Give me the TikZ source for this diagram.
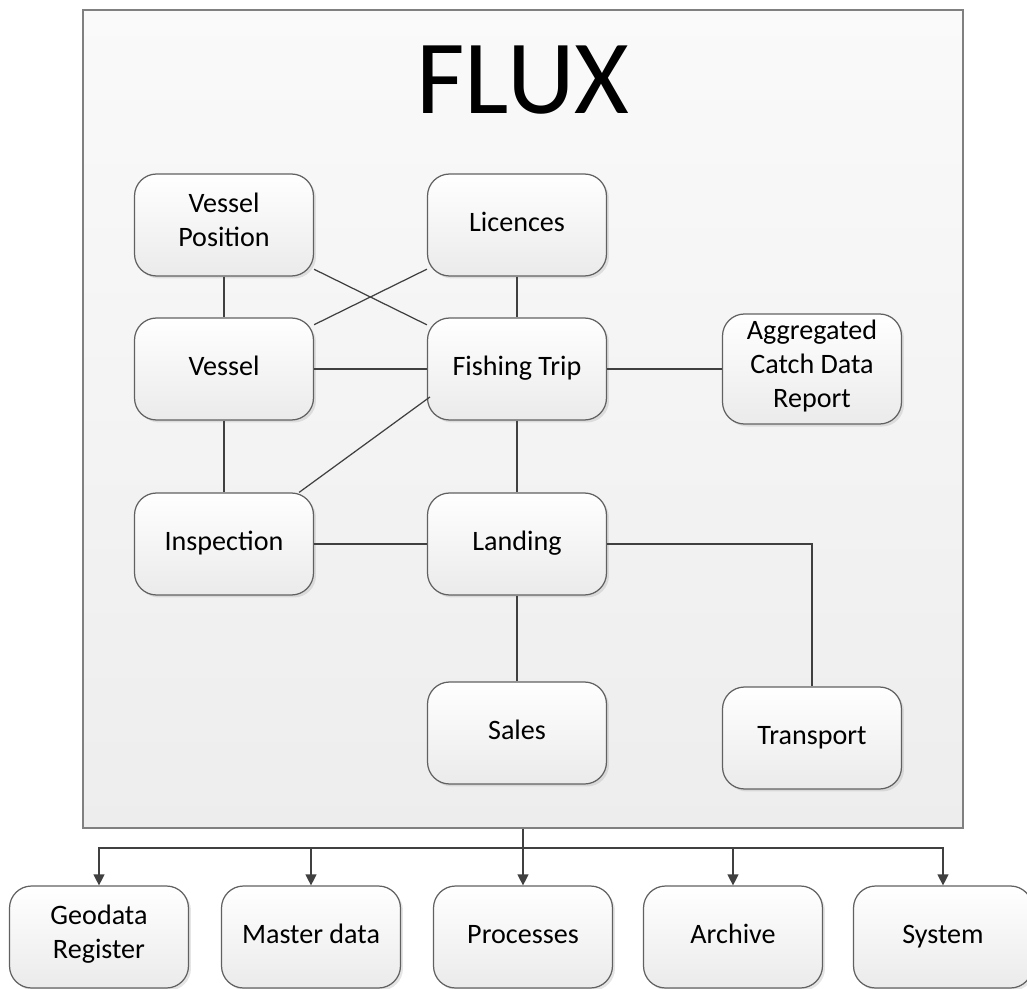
\documentclass[tikz,border=0pt]{standalone}
\usepackage{fontspec}
\setmainfont{Carlito}
\usetikzlibrary{arrows.meta,shadows}

\begin{document}
\begin{tikzpicture}[x=0.02cm,y=-0.02cm,
  box/.style={draw=black!62, line width=0.7pt, rounded corners=0.44cm, top color=white, bottom color=black!8, minimum width=3.58cm, minimum height=2.04cm, align=center, font=\fontsize{16}{19.5}\selectfont, execute at begin node=\strut, drop shadow={opacity=0.2, shadow xshift=0.05cm, shadow yshift=-0.05cm}},
  link/.style={draw=black!75, line width=0.7pt}]
\clip (0,0) rectangle (1027,989);
\fill[white] (0,0) rectangle (1027,989);
\node[draw=black!50, line width=1.1pt, top color=black!2, bottom color=black!7, minimum width=17.6cm, minimum height=16.36cm](frame) at (523,419) {};
\node(flux) at (523,80) {\fontsize{60}{66}\selectfont FLUX};
\node[box](vp) at (224,225) {Vessel\\Position};
\node[box](lic) at (517,225) {Licences};
\node[box](ves) at (224,369) {Vessel};
\node[box](ft) at (517,369) {Fishing Trip};
\node[box](acd) at (812,369) {Aggregated\\Catch Data\\Report};
\node[box](insp) at (224,544) {Inspection};
\node[box](land) at (517,544) {Landing};
\node[box](sales) at (517,733) {Sales};
\node[box](tr) at (812,738) {Transport};
\draw[link] (vp) -- (ves);
\draw[link] (lic) -- (ft);
\draw[link] (vp) -- (ft);
\draw[link] (ves) -- (lic);
\draw[link] (ves) -- (ft);
\draw[link] (ft) -- (acd);
\draw[link] (ves) -- (insp);
\draw[link] ([xshift=-0.3cm]insp.north east) -- ([xshift=0.06cm,yshift=-0.56cm]ft.west);
\draw[link] (insp) -- (land);
\draw[link] (ft) -- (land);
\draw[link] (land) -- (sales);
\draw[link] (land.east) -| (tr.north);
\coordinate (bus) at (523,848);
\draw[link] (frame.south) -- (bus);
\foreach \n/\x/\t in {geo/99/{Geodata\\Register}, mas/311/{Master data}, proc/523/Processes, arch/733/Archive, sys/943/System}
{
	\node[box](\n) at (\x,937) {\t};
	\draw[link, -{Triangle[width=0.22cm, length=0.22cm]}] (bus) -| (\n.north);
}
\end{tikzpicture}
\end{document}
